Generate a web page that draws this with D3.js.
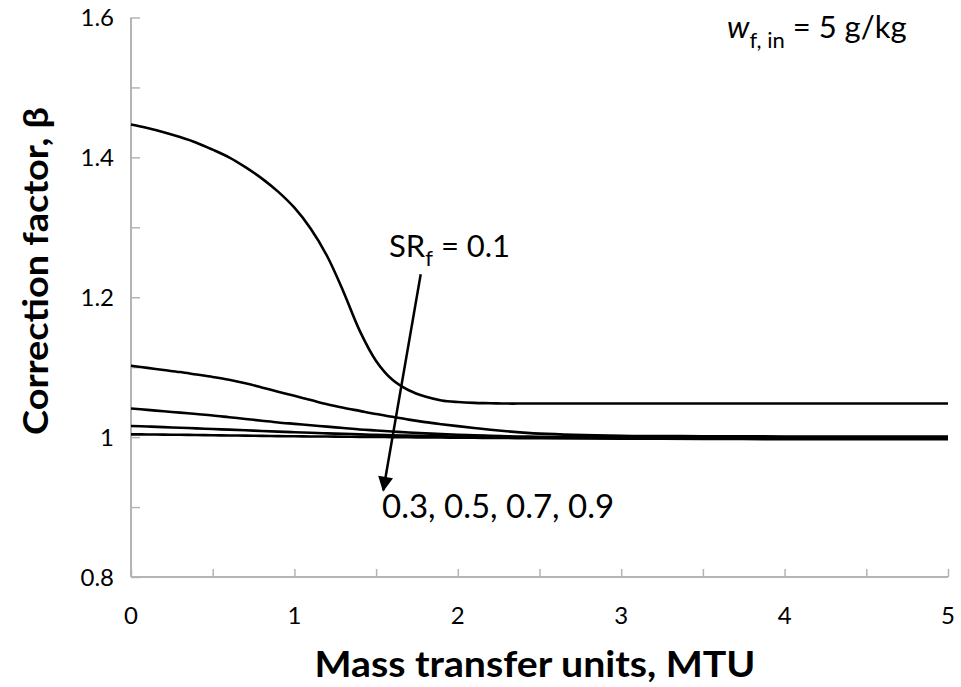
<!DOCTYPE html>
<html>
<head>
<meta charset="utf-8">
<script src="https://cdn.jsdelivr.net/npm/d3@7"></script>
<style>
  html, body { margin: 0; padding: 0; background: #fff; }
  svg { display: block; font-family: Lato, "Open Sans", sans-serif; }
</style>
</head>
<body>
<svg id="chart" width="961" height="687"></svg>
<script>
// Mass transfer units (shared x grid for every curve)
const mtu = [0, 0.1, 0.2, 0.3, 0.4, 0.5, 0.6, 0.7, 0.8, 0.9, 1.0, 1.1, 1.2, 1.3, 1.4, 1.5, 1.6, 1.7, 1.8, 1.9, 2.0, 2.1, 2.2, 2.3, 2.4, 2.5, 3, 3.5, 4, 4.5, 5];

// Correction factor beta for each salt ratio SR_f
const beta01 = [1.447, 1.442, 1.436, 1.429, 1.421, 1.411, 1.4, 1.386, 1.37, 1.351, 1.328, 1.298, 1.259, 1.208, 1.152, 1.109, 1.082, 1.067, 1.058, 1.0525, 1.0502, 1.049, 1.0485, 1.048, 1.048, 1.048, 1.048, 1.048, 1.048, 1.048, 1.048];
const beta03 = [1.102, 1.099, 1.096, 1.093, 1.0895, 1.086, 1.082, 1.077, 1.071, 1.065, 1.059, 1.053, 1.047, 1.042, 1.0375, 1.033, 1.029, 1.025, 1.0215, 1.0185, 1.0157, 1.013, 1.0105, 1.0083, 1.0065, 1.005, 1.002, 1.0013, 1.001, 1.001, 1.001];
const beta05 = [1.041, 1.039, 1.037, 1.035, 1.033, 1.031, 1.0285, 1.026, 1.0235, 1.021, 1.019, 1.017, 1.015, 1.013, 1.011, 1.0095, 1.008, 1.0066, 1.0054, 1.0043, 1.0034, 1.0026, 1.0019, 1.0013, 1.0008, 1.0004, 0.9995, 0.999, 0.999, 0.999, 0.999];
const beta07 = [1.016, 1.0152, 1.0143, 1.0134, 1.0125, 1.0116, 1.0107, 1.0098, 1.0088, 1.0079, 1.007, 1.0062, 1.0054, 1.0047, 1.004, 1.0033, 1.0027, 1.0021, 1.0016, 1.0012, 1.0008, 1.0004, 1.0001, 0.9998, 0.9995, 0.9993, 0.9985, 0.998, 0.998, 0.998, 0.998];
const beta09 = [1.004, 1.0038, 1.0036, 1.0033, 1.003, 1.0027, 1.0024, 1.0021, 1.0018, 1.0015, 1.0012, 1.001, 1.0008, 1.0006, 1.0004, 1.0002, 1.0, 0.9998, 0.9996, 0.9994, 0.9992, 0.999, 0.9989, 0.9987, 0.9985, 0.9984, 0.9978, 0.9974, 0.9971, 0.997, 0.997];

const seriesNames = ["0.1", "0.3", "0.5", "0.7", "0.9"];
const seriesValues = [beta01, beta03, beta05, beta07, beta09];

// Axis ticks
const xTickLabels = [0, 1, 2, 3, 4, 5];
const xMinorTicks = [0, 0.5, 1, 1.5, 2, 2.5, 3, 3.5, 4, 4.5, 5];
const yTickLabels = [0.8, 1, 1.2, 1.4, 1.6];
const yMinorTicks = [0.8, 0.9, 1.0, 1.1, 1.2, 1.3, 1.4, 1.5, 1.6];

// Annotation arrow (from label to tip), in data units
const arrowFrom = [1.773, 1.233];
const arrowTo = [1.544, 0.924];

const svg = d3.select("#chart");
const plot = { left: 131, right: 948, top: 17.5, bottom: 577 };

const x = d3.scaleLinear().domain([0, 5]).range([plot.left, plot.right]);
const y = d3.scaleLinear().domain([0.8, 1.6]).range([plot.bottom, plot.top]);

const axisColor = "#b4b4b4";

// X axis: line with inward ticks every 0.5
const xAxis = d3.axisBottom(x).tickValues(xMinorTicks).tickSize(-8).tickFormat("");
const gx = svg.append("g").attr("transform", `translate(0,${plot.bottom})`).call(xAxis);
gx.select(".domain").attr("stroke", axisColor).attr("stroke-width", 2).attr("d", `M${plot.left},0H${plot.right}`);
gx.selectAll(".tick line").attr("stroke", axisColor).attr("stroke-width", 1.5);

// Y axis: line with inward ticks every 0.1
const yAxis = d3.axisLeft(y).tickValues(yMinorTicks).tickSize(-9).tickFormat("");
const gy = svg.append("g").attr("transform", `translate(${plot.left},0)`).call(yAxis);
gy.select(".domain").attr("stroke", axisColor).attr("stroke-width", 2).attr("d", `M0,${plot.bottom}V${plot.top}`);
gy.selectAll(".tick line").attr("stroke", axisColor).attr("stroke-width", 1.5);

// Tick labels
svg.append("g").selectAll("text").data(xTickLabels).join("text")
  .attr("x", d => x(d)).attr("y", 624)
  .attr("text-anchor", "middle").attr("font-size", 24).attr("fill", "#000")
  .text(d => d);

svg.append("g").selectAll("text").data(yTickLabels).join("text")
  .attr("x", 114).attr("y", d => y(d) + 8.5)
  .attr("text-anchor", "end").attr("font-size", 24).attr("fill", "#000")
  .text(d => d3.format("")(d));

// Axis titles
svg.append("text")
  .attr("x", 535).attr("y", 677)
  .attr("text-anchor", "middle").attr("font-size", 36).attr("font-weight", "bold")
  .attr("textLength", 441).attr("lengthAdjust", "spacingAndGlyphs")
  .text("Mass transfer units, MTU");

svg.append("text")
  .attr("transform", "translate(48,271) rotate(-90)")
  .attr("text-anchor", "middle").attr("font-size", 35).attr("font-weight", "bold")
  .attr("textLength", 328).attr("lengthAdjust", "spacingAndGlyphs")
  .text("Correction factor, β");

// Curves
const line = d3.line()
  .x((d, i) => x(mtu[i]))
  .y(d => y(d))
  .curve(d3.curveCatmullRom.alpha(0.5));

svg.append("g").selectAll("path").data(seriesValues).join("path")
  .attr("d", d => line(d))
  .attr("fill", "none").attr("stroke", "#000").attr("stroke-width", 2.6)
  .attr("stroke-linejoin", "round");

// Arrow annotation
svg.append("defs").append("marker")
  .attr("id", "head").attr("viewBox", "0 0 10 10")
  .attr("refX", 9).attr("refY", 5)
  .attr("markerWidth", 6.5).attr("markerHeight", 6)
  .attr("markerUnits", "strokeWidth")
  .attr("orient", "auto")
  .append("path").attr("d", "M0,0L10,5L0,10Z").attr("fill", "#000");

svg.append("line")
  .attr("x1", x(arrowFrom[0])).attr("y1", y(arrowFrom[1]))
  .attr("x2", x(arrowTo[0])).attr("y2", y(arrowTo[1]))
  .attr("stroke", "#000").attr("stroke-width", 2.5)
  .attr("marker-end", "url(#head)");

// Series labels
const srLabel = svg.append("text").attr("x", 389).attr("y", 257).attr("font-size", 31);
srLabel.append("tspan").text("SR");
srLabel.append("tspan").attr("font-size", 22).attr("dy", 9).text("f");
srLabel.append("tspan").attr("dy", -9).text(" = " + seriesNames[0]);

svg.append("text").attr("x", 382).attr("y", 518).attr("font-size", 33)
  .text(seriesNames.slice(1).join(", "));

// Inlet humidity ratio note
const wLabel = svg.append("text").attr("x", 727).attr("y", 38).attr("font-size", 31);
wLabel.append("tspan").attr("font-style", "italic").text("w");
wLabel.append("tspan").attr("font-size", 22).attr("dy", 10).text("f, in");
wLabel.append("tspan").attr("dy", -10).text(" = 5 g/kg");
</script>
</body>
</html>
